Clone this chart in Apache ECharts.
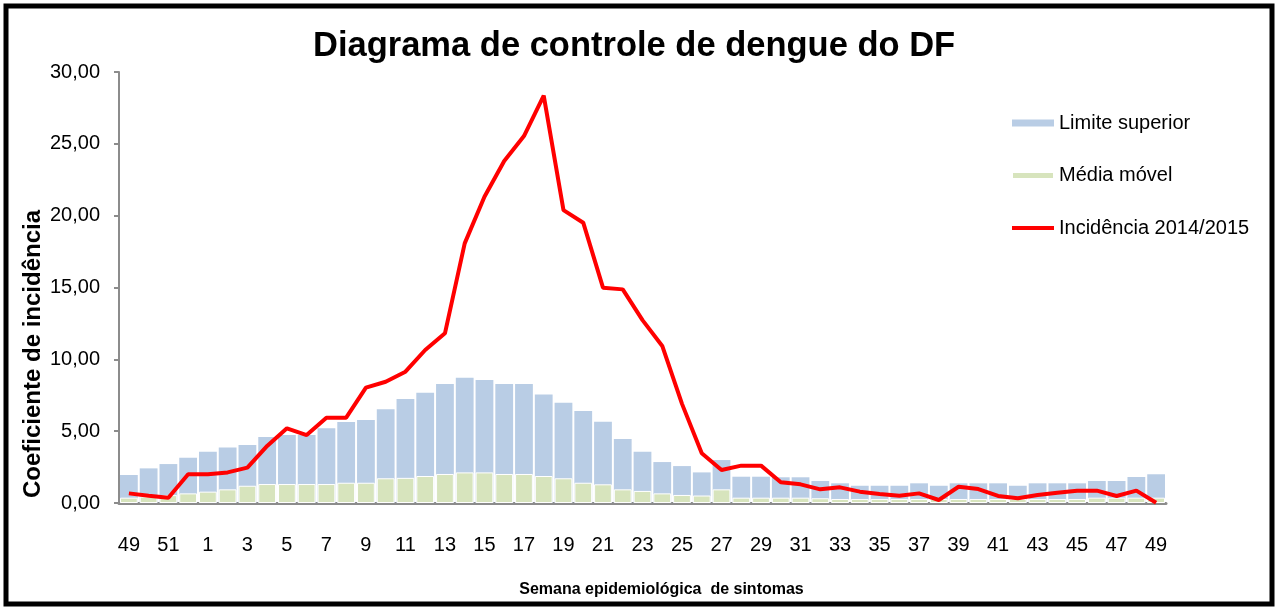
<!DOCTYPE html>
<html>
<head>
<meta charset="utf-8">
<script src="https://cdn.jsdelivr.net/npm/echarts@6/dist/echarts.min.js"></script>
<style>
  html, body { margin: 0; padding: 0; background: #fff; }
  #chart { width: 1278px; height: 610px; }
</style>
</head>
<body>
<div id="chart"></div>
<script>
var semanas = ['49', '50', '51', '52', '1', '2', '3', '4', '5', '6', '7', '8', '9', '10',
  '11', '12', '13', '14', '15', '16', '17', '18', '19', '20', '21', '22', '23', '24', '25',
  '26', '27', '28', '29', '30', '31', '32', '33', '34', '35', '36', '37', '38', '39', '40',
  '41', '42', '43', '44', '45', '46', '47', '48', '49'];

var limiteSuperior = [1.95, 2.41, 2.71, 3.15, 3.57, 3.87, 4.04, 4.59, 4.73, 4.73, 5.20, 5.64, 5.78, 6.52,
  7.24, 7.68, 8.28, 8.72, 8.56, 8.28, 8.28, 7.56, 6.98, 6.40, 5.66, 4.45, 3.57, 2.85, 2.57,
  2.13, 2.99, 1.83, 1.83, 1.79, 1.79, 1.53, 1.37, 1.20, 1.20, 1.20, 1.37, 1.20, 1.37, 1.37,
  1.37, 1.20, 1.37, 1.37, 1.37, 1.53, 1.53, 1.81, 2.00];

var mediaMovel = [0.37, 0.45, 0.55, 0.67, 0.79, 0.95, 1.20, 1.32, 1.32, 1.32, 1.32, 1.41, 1.41, 1.72,
  1.75, 1.88, 2.02, 2.13, 2.13, 2.02, 2.02, 1.88, 1.72, 1.41, 1.30, 0.95, 0.84, 0.67, 0.56,
  0.52, 0.95, 0.37, 0.37, 0.37, 0.37, 0.33, 0.28, 0.28, 0.28, 0.28, 0.28, 0.28, 0.28, 0.28,
  0.28, 0.28, 0.28, 0.28, 0.28, 0.37, 0.37, 0.37, 0.37];

var incidencia = [0.67, 0.50, 0.37, 2.00, 2.00, 2.13, 2.46, 3.97, 5.20, 4.73, 5.94, 5.94, 8.03, 8.44,
  9.14, 10.65, 11.81, 18.07, 21.32, 23.80, 25.54, 28.35, 20.39, 19.51, 14.99, 14.87, 12.73, 10.93, 6.90,
  3.46, 2.30, 2.60, 2.60, 1.44, 1.30, 0.95, 1.09, 0.79, 0.63, 0.51, 0.67, 0.21, 1.13, 0.97,
  0.49, 0.33, 0.56, 0.72, 0.86, 0.86, 0.49, 0.86, 0.02];

var fonte = "'Liberation Sans', Arial, sans-serif";

var chartDom = document.getElementById('chart');
var myChart = echarts.init(chartDom);
var option;

option = {
  backgroundColor: '#fff',
  animation: false,
  title: {
    text: 'Diagrama de controle de dengue do DF',
    left: 308, top: 24,
    textStyle: {
      color: '#000',
      fontFamily: fonte,
      fontWeight: 'bold',
      fontSize: 34.5
    }
  },
  legend: {
    orient: 'vertical',
    left: 1005,
    top: 107,
    itemWidth: 42,
    itemHeight: 7,
    itemGap: 30.5,
    textStyle: {
      color: '#000',
      fontFamily: fonte,
      fontSize: 20,
      lineHeight: 22
    },
    data: [
      { name: 'Limite superior', icon: 'rect' },
      { name: 'Média móvel', icon: 'rect' },
      { name: 'Incidência 2014/2015', itemStyle: { opacity: 0 }, lineStyle: { width: 4 } }
    ]
  },
  grid: {
    left: 119,
    right: 112,
    top: 72,
    bottom: 107
  },
  xAxis: {
    type: 'category',
    data: semanas,
    boundaryGap: true,
    name: 'Semana epidemiológica  de sintomas',
    nameLocation: 'middle',
    nameGap: 79,
    nameTextStyle: {
      color: '#000',
      fontFamily: fonte,
      fontWeight: 'bold',
      fontSize: 16,
      padding: [0, 0, 0, 38]
    },
    axisLine: { lineStyle: { color: '#8c8c8c', width: 3 } },
    axisTick: { show: false },
    axisLabel: {
      interval: 1,
      margin: 32,
      color: '#000',
      fontFamily: fonte,
      fontSize: 20
    }
  },
  yAxis: {
    type: 'value',
    min: 0,
    max: 30,
    interval: 5,
    splitLine: { show: false },
    axisLine: { show: true, lineStyle: { color: '#8c8c8c', width: 2 } },
    axisTick: { show: true, inside: false, length: 5, lineStyle: { color: '#8c8c8c', width: 2 } },
    axisLabel: {
      margin: 19,
      color: '#000',
      fontFamily: fonte,
      fontSize: 20,
      formatter: function (v) {
        return v.toFixed(2).replace('.', ',');
      }
    }
  },
  graphic: [
    {
      type: 'rect',
      shape: { x: 6, y: 6, width: 1266, height: 598 },
      style: { fill: 'none', stroke: '#000', lineWidth: 5 },
      silent: true
    },
    {
      type: 'text',
      x: 33,
      y: 354,
      rotation: Math.PI / 2,
      style: {
        text: 'Coeficiente de incidência',
        fill: '#000',
        font: "bold 24px 'Liberation Sans', Arial, sans-serif",
        textAlign: 'center',
        textVerticalAlign: 'middle'
      }
    }
  ],
  series: [
    {
      name: 'Limite superior',
      type: 'bar',
      barCategoryGap: '10%',
      itemStyle: { color: '#b9cde5' },
      data: limiteSuperior
    },
    {
      name: 'Média móvel',
      type: 'bar',
      barGap: '-100%',
      barCategoryGap: '10%',
      itemStyle: { color: '#d7e4bd', borderColor: '#fff', borderWidth: 1 },
      data: mediaMovel
    },
    {
      name: 'Incidência 2014/2015',
      type: 'line',
      symbol: 'none',
      itemStyle: { color: '#ff0000' },
      lineStyle: { color: '#ff0000', width: 4 },
      data: incidencia
    }
  ]
};

option && myChart.setOption(option);
</script>
</body>
</html>
